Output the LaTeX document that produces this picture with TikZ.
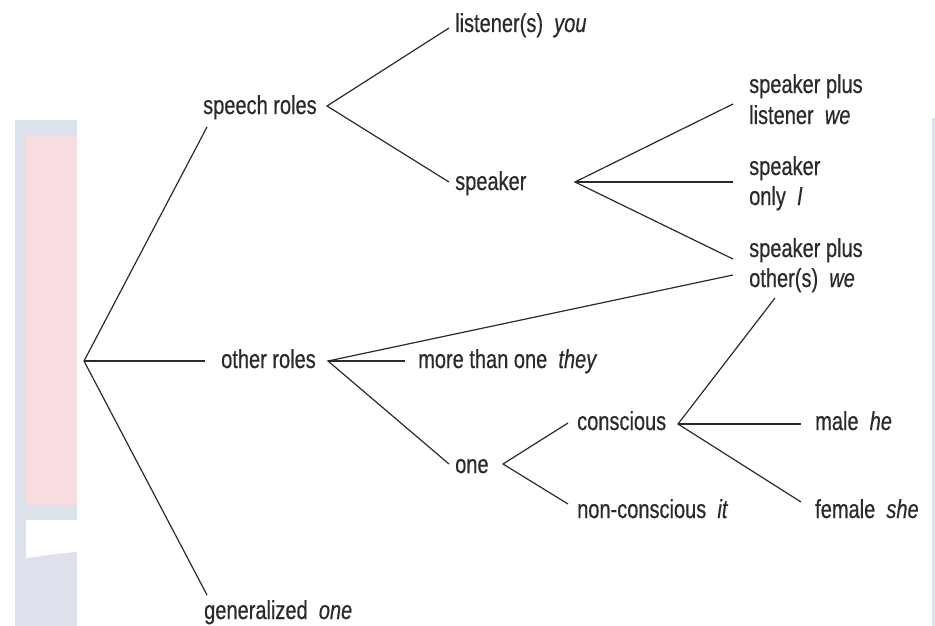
\documentclass[tikz,border=0pt]{standalone}
\usepackage{fontspec}
\setmainfont{Liberation Sans}[FakeStretch=0.77,FakeBold=0.5]
\definecolor{ink}{HTML}{2A2A2A}
\definecolor{wmblue}{HTML}{DDE1EB}
\definecolor{wmpink}{HTML}{F9DCDF}
\begin{document}
\begin{tikzpicture}[x=1pt,y=-1pt,
  lbl/.style={anchor=base west,inner sep=0pt,text=ink,font=\fontsize{26}{31}\selectfont},
  edge/.style={draw=ink,line width=1.2pt}]
\useasboundingbox (0,0) rectangle (935,626);
% faint background strips
\fill[wmblue] (15,120) rectangle (77,626);
\fill[wmpink] (26,135) rectangle (77,505);
\fill[white] (26,520) -- (77,520) -- (77,552) .. controls (55,554) .. (26,558) -- cycle;
\fill[wmblue] (932,118) rectangle (935,626);
% labels
\node[lbl] (sr) at (203,114) {speech roles};
\node[lbl] (li) at (455,32) {listener(s)\ \ \textit{you}};
\node[lbl] (sp) at (455,190) {speaker};
\node[lbl] (spl) at (749,93) {\vtop{\baselineskip=31pt\hbox{speaker plus}\hbox{listener\ \ \textit{we}}}};
\node[lbl] (spo) at (749,175) {\vtop{\baselineskip=30pt\hbox{speaker}\hbox{only\ \ \textit{I}}}};
\node[lbl] (spt) at (749,257) {\vtop{\baselineskip=30pt\hbox{speaker plus}\hbox{other(s)\ \ \textit{we}}}};
\node[lbl] (or) at (221,368) {other roles};
\node[lbl] (mo) at (418,368) {more than one\ \ \textit{they}};
\node[lbl] (on) at (455,473) {one};
\node[lbl] (co) at (577,430) {conscious};
\node[lbl] (nc) at (577,518) {non-conscious\ \ \textit{it}};
\node[lbl] (ma) at (815,430) {male\ \ \textit{he}};
\node[lbl] (fe) at (815,518) {female\ \ \textit{she}};
\node[lbl] (ge) at (204,619) {generalized\ \ \textit{one}};
% junction and end points
\coordinate (root) at (84,361);
\coordinate (rootSR) at (207,127);
\coordinate (rootOR) at (205,361);
\coordinate (rootGE) at (207,595);
\coordinate (srJ) at (327,106);
\coordinate (srLI) at (449,28);
\coordinate (srSP) at (449,182);
\coordinate (spJ) at (575,182);
\coordinate (spA) at (733,104);
\coordinate (spB) at (733,182);
\coordinate (spC) at (733,259);
\coordinate (orJ) at (328,361);
\coordinate (orSPT) at (733,275);
\coordinate (orMO) at (405,361);
\coordinate (orON) at (449,464);
\coordinate (onJ) at (503,464);
\coordinate (onCO) at (568,423);
\coordinate (onNC) at (568,504);
\coordinate (coJ) at (678,424);
\coordinate (coSPT) at (775,298);
\coordinate (coMA) at (801,424);
\coordinate (coFE) at (801,502);
% connectors
\draw[edge] (rootSR) -- (root) -- (rootGE);
\draw[edge] (root) -- (rootOR);
\draw[edge] (srLI) -- (srJ) -- (srSP);
\draw[edge] (spA) -- (spJ) -- (spC);
\draw[edge] (spJ) -- (spB);
\draw[edge] (orSPT) -- (orJ) -- (orON);
\draw[edge] (orJ) -- (orMO);
\draw[edge] (onCO) -- (onJ) -- (onNC);
\draw[edge] (coSPT) -- (coJ) -- (coFE);
\draw[edge] (coJ) -- (coMA);
\end{tikzpicture}
\end{document}
